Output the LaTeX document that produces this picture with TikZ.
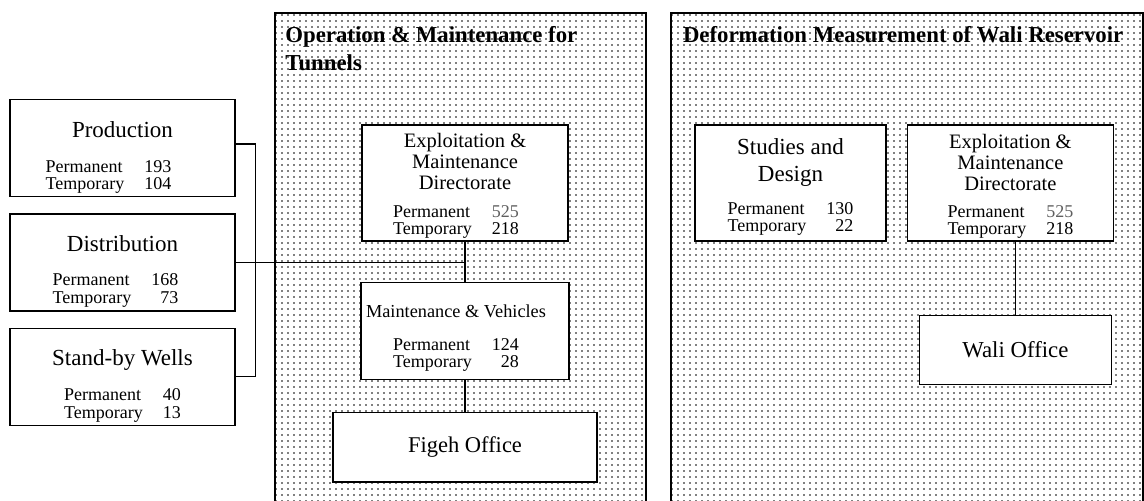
\documentclass[tikz,border=0pt]{standalone}
\usepackage{fontspec}
\setmainfont{Liberation Serif}
\usepackage{tikz}
\usetikzlibrary{positioning,patterns.meta}
\definecolor{numgray}{RGB}{95,95,95}
\newcommand{\numfont}{\fontsize{9}{8.75}\selectfont}
\newcommand{\staff}[2]{{\numfont\begin{tabular}[t]{@{}l@{\hspace{10pt}}r@{}}Permanent & #1\\Temporary & #2\end{tabular}}}

\tikzdeclarepattern{
  name=paneldots,
  type=uncolored,
  bounding box={(-0.5pt,-0.5pt) and (0.5pt,0.5pt)},
  tile size={(3pt,3pt)},
  code={
    \pgfpathcircle{\pgfpointorigin}{0.42pt}
    \pgfusepath{fill}
  }
}

\begin{document}
\begin{tikzpicture}[
  x=1pt, y=1pt,
  unit/.style={draw, line width=0.7pt, fill=white, inner sep=0pt},
  bigtext/.style={align=center, inner sep=0pt, font=\fontsize{11.5}{13}\selectfont},
  dirtext/.style={align=center, inner sep=0pt, font=\fontsize{10.25}{10.5}\selectfont},
  heading/.style={align=left, inner sep=0pt, font=\bfseries\fontsize{11.4}{14}\selectfont},
  panel/.style={pattern=paneldots, pattern color=black},
  link/.style={line width=0.7pt}
]
  \useasboundingbox (0,0) rectangle (572,-250.5);

  % Panels
  \fill[panel] (137.5,-6.5) rectangle (323,-250.5);
  \draw[line width=0.9pt] (137.5,-250.5) |- (323,-6.5) -- (323,-250.5);
  \fill[panel] (335.5,-6.5) rectangle (571.5,-250.5);
  \draw[line width=0.9pt] (335.5,-250.5) |- (571.5,-6.5) -- (571.5,-250.5);

  \node[heading, anchor=north west] (ops-title) at (142.5,-13.1) {Operation \& Maintenance for\\Tunnels};
  \node[heading, anchor=north west] (wali-title) at (341.3,-13.1) {Deformation Measurement of Wali Reservoir};

  % Nodes
  \node[unit, minimum width=112.5pt, minimum height=48.5pt] (prod) at (61.25,-74) {};
  \node[unit, minimum width=112.5pt, minimum height=48.5pt, below=8pt of prod] (dist) {};
  \node[unit, minimum width=112.5pt, minimum height=48.5pt, below=8pt of dist] (wells) {};
  \node[bigtext, below=11pt of prod.north] (prod-txt) {Production\\[4.5pt]\staff{193}{104}\hspace*{14pt}};
  \node[bigtext, below=11pt of dist.north] (dist-txt) {Distribution\\[4pt]\staff{168}{73}\hspace*{7pt}};
  \node[bigtext, below=11pt of wells.north] (wells-txt) {Stand-by Wells\\[4.5pt]\staff{40}{13}};

  \node[unit, minimum width=103pt, minimum height=58pt] (emdA) at (232.5,-91.5) {};
  \node[dirtext, below=4.1pt of emdA.north] (emdA-txt) {Exploitation \&\\Maintenance\\Directorate\\[3.5pt]\staff{\textcolor{numgray}{525}}{218}\hspace*{9pt}};
  \node[unit, minimum width=104pt, minimum height=48.5pt, below=20pt of emdA] (mv) {};
  \node[dirtext, font=\fontsize{9.15}{10.5}\selectfont, below=11.5pt of mv.north, xshift=-4.5pt] (mv-txt) {Maintenance \& Vehicles\\[5.8pt]\staff{124}{28}};
  \node[unit, minimum width=132pt, minimum height=34.5pt, font=\fontsize{11.25}{13}\selectfont, below=16pt of mv] (figeh) {Figeh Office};

  \node[unit, minimum width=95.5pt, minimum height=58pt] (study) at (395.25,-91.5) {};
  \node[bigtext, font=\fontsize{11.5}{13.3}\selectfont, below=7.1pt of study.north] (study-txt) {Studies and\\Design\\[3pt]\staff{130}{22}};
  \node[unit, minimum width=103pt, minimum height=58pt, right=10pt of study] (emdB) {};
  \node[dirtext, below=4.9pt of emdB.north] (emdB-txt) {Exploitation \&\\Maintenance\\Directorate\\[2.75pt]\staff{\textcolor{numgray}{525}}{218}};
  \node[unit, minimum width=96pt, minimum height=34.5pt, font=\fontsize{11.4}{13}\selectfont, below=36.5pt of emdB, xshift=2.5pt] (wali) {Wali Office};

  % Paths
  \draw[link] ([yshift=2pt]prod.east) -- ++(10pt,0) |- (wells.east);
  \draw[link] (dist.east) -- (dist.east -| emdA.south);
  \draw[link] (emdA) -- (mv);
  \draw[link] (mv) -- (figeh);
  \draw[link] (wali.north) -- (wali.north |- emdB.south);
\end{tikzpicture}
\end{document}
